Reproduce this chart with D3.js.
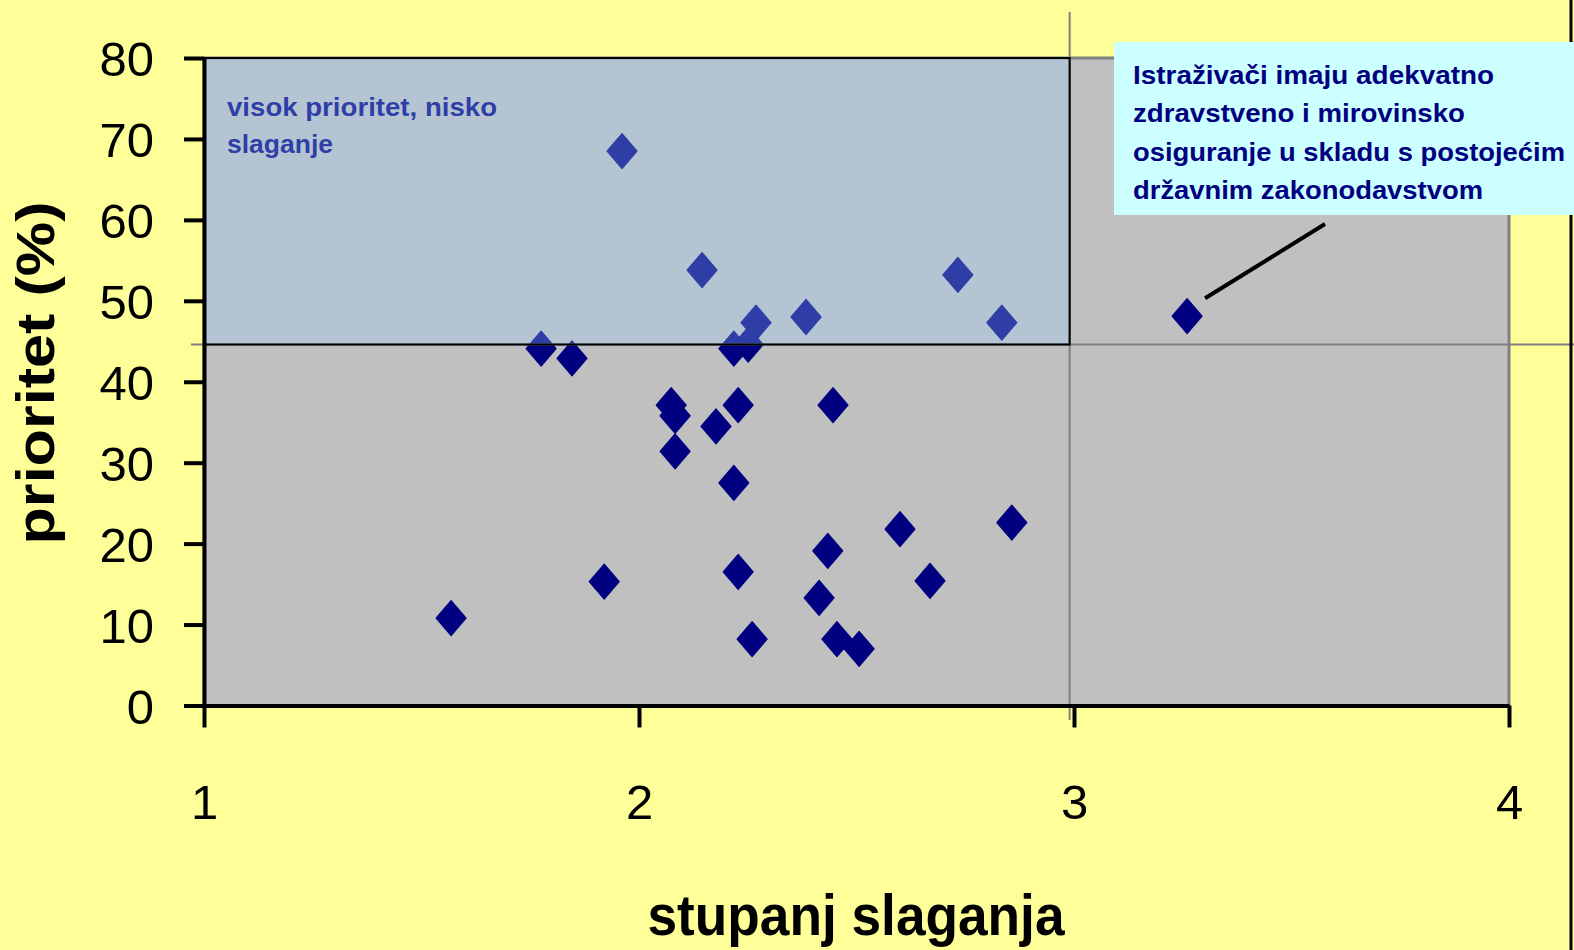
<!DOCTYPE html>
<html>
<head>
<meta charset="utf-8">
<script src="https://cdn.jsdelivr.net/npm/d3@7/dist/d3.min.js"></script>
<style>
  html, body { margin: 0; padding: 0; background: #ffff99; }
  svg { display: block; }
</style>
</head>
<body>
<svg id="chart" width="1574" height="950"></svg>
<script>
// ---- data ----
const agreement = [1.961, 2.145, 2.269, 2.384, 2.733, 2.834, 3.260, 1.775, 1.846, 2.218,
                   2.251, 2.074, 2.083, 2.228, 2.446, 2.177, 2.083, 2.218, 2.600, 2.857,
                   2.434, 2.228, 1.920, 2.669, 1.568, 2.414, 2.260, 2.455, 2.506];
const priority  = [68.5, 53.8, 47.3, 48.0, 53.2, 47.3, 48.1, 44.1, 42.9, 44.1,
                   44.6, 37.1, 35.8, 37.1, 37.1, 34.5, 31.4, 27.5, 21.8, 22.6,
                   19.1, 16.5, 15.3, 15.4, 10.8, 13.3, 8.2, 8.2, 7.0];
const xTicks = [1, 2, 3, 4];
const yTicks = [0, 10, 20, 30, 40, 50, 60, 70, 80];
const xThreshold = 2.99;
const yThreshold = 44.6;
const quadrantLabel = ["visok prioritet, nisko", "slaganje"];
const calloutLines = ["Istraživači imaju adekvatno", "zdravstveno i mirovinsko",
                      "osiguranje u skladu s postojećim", "državnim zakonodavstvom"];
const calloutIndex = 6;
const xTitle = "stupanj slaganja";
const yTitle = "prioritet (%)";

const points = agreement.map((a, i) => ({x: a, y: priority[i]}));

const svg = d3.select("#chart");
const W = 1574, H = 950;
const x = d3.scaleLinear().domain([1, 4]).range([204, 1509]);
const y = d3.scaleLinear().domain([0, 80]).range([705.5, 58]);
const navy = "#000080";

svg.append("rect").attr("width", W).attr("height", H).attr("fill", "#ffff99");

// plot area
svg.append("rect")
  .attr("x", x(1)).attr("y", y(80))
  .attr("width", x(4) - x(1)).attr("height", y(0) - y(80))
  .attr("fill", "#c0c0c0").attr("stroke", "#808080").attr("stroke-width", 3);

// quadrant label (under the overlay)
const ql = svg.append("text")
  .attr("font-family", "Liberation Sans, Arial, sans-serif")
  .attr("font-size", 25).attr("font-weight", "bold").attr("fill", navy);
const qlLens = [270, 106];
quadrantLabel.forEach((t, i) => {
  ql.append("tspan").attr("x", 227).attr("y", 116 + i * 37)
    .attr("textLength", qlLens[i]).attr("lengthAdjust", "spacingAndGlyphs").text(t);
});

// markers
const hw = 15, hh = 17.5;
svg.append("g").selectAll("path").data(points).join("path")
  .attr("transform", d => `translate(${x(d.x)},${y(d.y)})`)
  .attr("d", `M0,${-hh}L${hw},0L0,${hh}L${-hw},0Z`)
  .attr("fill", navy).attr("stroke", navy).attr("stroke-width", 1.2)
  .attr("stroke-linejoin", "round");

// translucent overlay (high priority / low agreement)
svg.append("rect")
  .attr("x", x(1)).attr("y", y(80))
  .attr("width", x(xThreshold) - x(1)).attr("height", y(yThreshold) - y(80))
  .attr("fill", "#99ccff").attr("fill-opacity", 0.3);

// threshold guide lines (gray)
svg.append("line")
  .attr("x1", x(xThreshold)).attr("x2", x(xThreshold))
  .attr("y1", 12).attr("y2", 720)
  .attr("stroke", "#808080").attr("stroke-width", 2);
svg.append("line")
  .attr("x1", 191).attr("x2", W)
  .attr("y1", y(yThreshold)).attr("y2", y(yThreshold))
  .attr("stroke", "#808080").attr("stroke-width", 2);

// overlay border (black)
svg.append("rect")
  .attr("x", x(1)).attr("y", y(80))
  .attr("width", x(xThreshold) - x(1)).attr("height", y(yThreshold) - y(80))
  .attr("fill", "none").attr("stroke", "#000").attr("stroke-width", 2);

// axes
const axisFont = "Liberation Sans, Arial, sans-serif";
const gy = svg.append("g").attr("transform", `translate(${x(1)},0)`)
  .call(d3.axisLeft(y).tickValues(yTicks).tickSize(20).tickSizeOuter(0).tickPadding(30));
gy.select(".domain").attr("stroke", "#000").attr("stroke-width", 4);
gy.selectAll(".tick line").attr("stroke", "#000").attr("stroke-width", 4);
gy.selectAll(".tick text").attr("font-family", axisFont).attr("font-size", 49)
  .attr("fill", "#000").attr("dy", "0.36em");

const gx = svg.append("g").attr("transform", `translate(0,${y(0)})`)
  .call(d3.axisBottom(x).tickValues(xTicks).tickFormat(d3.format("d")).tickSize(22).tickSizeOuter(0));
gx.select(".domain").attr("stroke", "#000").attr("stroke-width", 4);
gx.selectAll(".tick line").attr("stroke", "#000").attr("stroke-width", 4);
gx.selectAll(".tick text").attr("font-family", axisFont).attr("font-size", 49)
  .attr("fill", "#000").attr("y", 113).attr("dy", 0);

// axis titles
svg.append("text")
  .attr("x", 856).attr("y", 935).attr("text-anchor", "middle")
  .attr("font-family", axisFont).attr("font-weight", "bold").attr("font-size", 58)
  .attr("textLength", 417).attr("lengthAdjust", "spacingAndGlyphs")
  .attr("fill", "#000").text(xTitle);
svg.append("text")
  .attr("transform", `translate(54,373) rotate(-90)`).attr("text-anchor", "middle")
  .attr("font-family", axisFont).attr("font-weight", "bold").attr("font-size", 54)
  .attr("textLength", 343).attr("lengthAdjust", "spacingAndGlyphs")
  .attr("fill", "#000").text(yTitle);

// right chart border
svg.append("line").attr("x1", 1571).attr("x2", 1571).attr("y1", 0).attr("y2", H)
  .attr("stroke", "#000").attr("stroke-width", 3);

// leader line to the annotated point
const cp = points[calloutIndex];
svg.append("line")
  .attr("x1", x(cp.x) + 18).attr("y1", y(cp.y) - 18)
  .attr("x2", 1325).attr("y2", 224)
  .attr("stroke", "#000").attr("stroke-width", 4);

// callout box
svg.append("rect").attr("x", 1114).attr("y", 42).attr("width", W - 1114).attr("height", 173)
  .attr("fill", "#ccffff");
const ct = svg.append("text")
  .attr("font-family", "Liberation Sans, Arial, sans-serif")
  .attr("font-size", 25).attr("font-weight", "bold").attr("fill", navy);
const cLens = [361, 332, 432, 350];
calloutLines.forEach((t, i) => {
  ct.append("tspan").attr("x", 1133).attr("y", 84 + i * 38.3)
    .attr("textLength", cLens[i]).attr("lengthAdjust", "spacingAndGlyphs").text(t);
});
</script>
</body>
</html>
